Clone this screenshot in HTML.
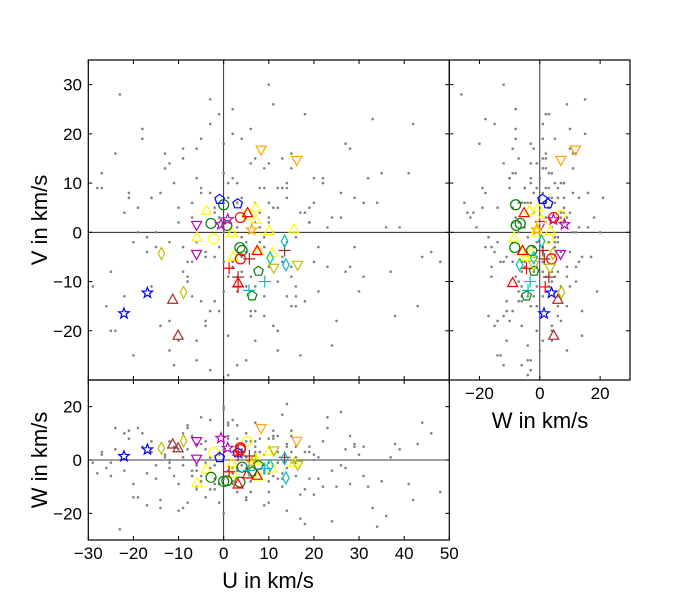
<!DOCTYPE html>
<html><head><meta charset="utf-8"><style>
html,body{margin:0;padding:0;background:#fff;}
svg text{font-family:"Liberation Sans",sans-serif;}
</style></head><body>
<svg id="chart" width="700" height="600" xmlns="http://www.w3.org/2000/svg"></svg>
<script>
// Field stars [U, V, W]
const fieldU = [-27,-25,-22,-20,-18,-15,-14,-12,-10,-9,-8,-7,-6,-5,-4,-3,-2,-1,0,1,2,3,4,5,6,7,8,9,10,11,12,13,14,15,16,17,18,20,22,24,26,28,30,34,38,42,46,-26,-21,-17,-13,-11,-8,-6,-4,-2,0,2,4,6,8,10,12,14,16,19,23,27,31,36,41,-24,-19,-16,-12,-9,-7,-5,-3,-1,1,3,5,7,9,11,13,15,18,21,25,29,33,44,-28,-23,-10,-5,0,5,10,15,20,-1,3,7,-7,12,2,-3,9,6,
 -29,-24,-20,-16,-14,-11,-9,-7,-5,-3,-2,0,1,3,4,6,7,9,10,12,13,15,17,19,21,23,26,29,32,37,43,48,-27,-22,-18,-15,-12,-10,-8,-6,-4,-1,1,2,4,5,7,8,10,11,13,14,16,18,20,24,28,35,39,-25,-21,-17,-13,-8,-6,-3,-2,0,2,3,5,6,8,9,11,12,14,16,19,22,27,31,-19,-12,-4,1,4,7,10,14,-9,-1,5,9,15,3,-6,0,6,11];
const fieldV = [12,-8,4,-25,19,-3,8,-18,2,15,-10,6,-22,9,-5,27,-14,3,18,-9,11,-27,7,-4,21,-16,1,13,-7,5,-20,9,-2,16,-11,4,24,-6,10,-23,3,17,-12,6,-17,22,-4,-15,7,-1,13,-27,-6,11,-19,4,-12,25,-8,14,-2,6,-24,9,-13,2,-7,18,-9,1,12,-20,5,-11,-2,17,-6,8,-16,3,-29,10,-4,6,-13,0,15,-9,4,-3,-18,7,23,-5,9,28,-22,19,0,-26,30,-15,11,-3,-9,2,-13,5,-6,8,-1,
 4,-11,16,-2,7,-19,10,-8,3,-14,22,-5,12,-21,6,-1,-9,15,-17,2,9,-6,13,-25,5,-12,1,8,-3,11,-8,-15,-6,9,-13,21,0,-24,5,-10,17,-4,-16,7,-7,19,-2,-11,4,14,-19,-5,10,-1,-14,6,3,-7,12,1,-20,8,-4,16,-9,-2,-28,5,-6,20,-12,3,-17,9,-3,26,-10,7,-15,2,11,-8,6,0,14,-18,10,-5,-22,3,-13,-3,24,-11,9,-7,1,-26,6,-16];
const fieldW = [3,-6,10,-14,5,-2,-18,7,-9,1,12,-4,-11,6,-1,15,-7,3,-20,9,-3,-12,4,1,-8,14,-5,2,-16,8,-1,-10,5,11,-6,-22,3,-13,7,-4,18,-9,2,-25,6,-15,10,-3,8,-17,1,-6,13,-10,4,-2,19,-8,6,-12,3,-5,9,-19,1,-7,12,-3,5,-21,-9,4,-14,7,-1,10,-6,16,-11,2,-4,8,-15,5,-2,11,-7,3,-24,1,-10,6,-18,14,-5,-26,4,-8,20,-3,-12,9,0,-16,2,7,-6,3,-9,1,
 -4,7,-1,12,-9,3,-15,5,-2,9,-6,1,-11,4,14,-3,6,-8,2,-17,8,-1,-5,11,-13,3,-7,16,-2,5,-10,1,6,-12,2,-4,10,-7,0,-19,4,-2,7,-9,13,-5,1,-14,3,8,-1,-6,17,-3,5,-11,2,-23,9,-8,4,-1,11,-5,2,-16,6,-3,-9,1,15,-4,7,-12,3,-2,9,-7,21,-1,5,-10,4,-6,12,-3,-14,8,-2,1,-8,6,-18,2,10,-5,-1,13,-4,-7];
// Named stars
const starU = [-22.1,-16.9,-11.3,-10.1,-8.9,-13.8,-6,-6,-3.8,1.9,7.1,7.2,10.1,15.6,2.1,7.8,10.8,-5.9,-2.8,0,0.7,3.6,4.1,-2.2,5.2,-0.9,3.1,-0.6,0.9,3.7,3.7,6.2,8.3,16.2,5.3,7.4,3.2,5.7,13.5,3.2,1.2,3.2,7.7,6.3,10.3,13.5,13.8,11.1,16.4,9.1,5.6];
const starV = [-16.5,-12.3,-13.6,-20.9,-12.2,-4.3,1.4,-4.5,4.5,0,5.1,2.6,0.4,0.7,-4.9,-3.7,-4.1,-1,1.8,5.6,1.4,-3.1,-3.7,-1.3,3.5,6.7,5.8,1.6,2.6,3.0,-5.4,0.5,16.7,14.6,4.0,-3.7,-10.2,-5.4,-3.7,-9.1,-7.3,-11.1,-7.9,-12.9,-5.2,-1.8,-6.6,-7.3,-6.7,-10,-11.8];
const starW = [1.4,3.9,6.0,4.6,7.2,4.4,0.3,6.9,-3.4,-1,-0.5,0.5,3.5,-1,-5,-6,-3,-8.5,-6.5,-8,-7.8,-8.3,-2.7,2.8,7,0.9,2.7,8.2,4.5,4.6,3.9,-1,11.8,7,-5.2,-5.7,-9,1.5,1,3,-4.4,1.8,-1.9,-4.4,-2,0.6,-6.7,3.4,-2,-3.2,-3.9];
const starShape = ['star','star','tri','tri','dia','dia','dtri','dtri','tri','tri','tri','tri','tri','tri','tri','tri','tri','tri','circ','circ','circ','circ','circ','circ','circ','pent','pent','star','star','circ','circ','star','dtri','dtri','tri','tri','tri','plus','plus','plus','plus','plus','pent','pent','dia','dia','dia','dtri','dtri','plus','plus'];
const starColor = ['#0000ff','#0000ff','#a52a2a','#a52a2a','#bfbf00','#bfbf00','#bf00bf','#bf00bf','#ffff00','#ffff00','#ffff00','#ffff00','#ffff00','#ffff00','#ffff00','#ffff00','#ffff00','#ffff00','#008000','#008000','#008000','#008000','#008000','#ffff00','#ffff00','#0000ff','#0000ff','#bf00bf','#bf00bf','#ff0000','#ff0000','#ffa500','#ffa500','#ffa500','#ff0000','#ff0000','#ff0000','#a52a2a','#a52a2a','#a52a2a','#ff0000','#ff0000','#008000','#008000','#00bfbf','#00bfbf','#00bfbf','#bfbf00','#bfbf00','#00bfbf','#00bfbf'];
const uTicks = [-30,-20,-10,0,10,20,30,40,50];
const vTicks = [-20,-10,0,10,20,30];
const wTicks = [-20,0,20];

const NS='http://www.w3.org/2000/svg';
const svg=document.getElementById('chart');
function el(t,a,p){const e=document.createElementNS(NS,t);for(const k in a)e.setAttribute(k,a[k]);(p||svg).appendChild(e);return e;}
const xU=u=>88.3+(u+30)*(361/80);
const yV=v=>380-(v+30)*(320/65);
const xW=w=>449.3+(w+30)*(181/60);
const yW=w=>460-w*(80/30);

const panels=[
 {name:'uv-panel',x0:88.3,y0:60,x1:449.3,y1:380,fx:xU,fy:yV,ax:'U',ay:'V'},
 {name:'wv-panel',x0:449.3,y0:60,x1:630,y1:380,fx:xW,fy:yV,ax:'W',ay:'V'},
 {name:'uw-panel',x0:88.3,y0:380,x1:449.3,y1:540,fx:xU,fy:yW,ax:'U',ay:'W'}
];
function marker(g,shape,cx,cy,c){
 const s=5, a={fill:'none',stroke:c,'stroke-width':1.2};
 let m;
 if(shape==='circ') m=el('circle',Object.assign({cx,cy,r:s},a),g);
 else if(shape==='tri') m=el('polygon',Object.assign({points:`${cx},${cy-s} ${cx-s},${cy+s*0.8} ${cx+s},${cy+s*0.8}`},a),g);
 else if(shape==='dtri') m=el('polygon',Object.assign({points:`${cx},${cy+s} ${cx-s},${cy-s*0.8} ${cx+s},${cy-s*0.8}`},a),g);
 else if(shape==='dia') m=el('polygon',Object.assign({points:`${cx},${cy-s*1.2} ${cx+s*0.65},${cy} ${cx},${cy+s*1.2} ${cx-s*0.65},${cy}`},a),g);
 else if(shape==='plus') m=el('path',Object.assign({d:`M${cx-s*1.2},${cy}H${cx+s*1.2}M${cx},${cy-s*1.2}V${cy+s*1.2}`},a),g);
 else {
  const pts=[], inner=shape==='star'?s*0.45:null;
  for(let i=0;i<(inner?10:5);i++){const r=inner?(i%2?inner:s*1.1):s;const ang=-Math.PI/2+i*Math.PI*2/(inner?10:5);pts.push((cx+r*Math.cos(ang)).toFixed(1)+','+(cy+r*Math.sin(ang)).toFixed(1));}
  m=el('polygon',Object.assign({points:pts.join(' ')},a),g);
 }
 return m;
}
panels.forEach(p=>{
 const g=el('g',{});
 
 
 const cid='clip-'+p.name;
 const cp=el('clipPath',{id:cid},g);el('rect',{x:p.x0,y:p.y0,width:p.x1-p.x0,height:p.y1-p.y0},cp);
 const inner=el('g',{'clip-path':`url(#${cid})`},g);
 const val={U:fieldU,V:fieldV,W:fieldW};
 const sval={U:starU,V:starV,W:starW};
 el('line',{x1:p.fx(0),x2:p.fx(0),y1:p.y0,y2:p.y1,stroke:'#000','stroke-width':0.8},inner);
 el('line',{x1:p.x0,x2:p.x1,y1:p.fy(0),y2:p.fy(0),stroke:'#000','stroke-width':0.8},inner);
 for(let i=0;i<fieldU.length;i++){
  const d=el('circle',{cx:p.fx(val[p.ax][i]),cy:p.fy(val[p.ay][i]),r:1.3,fill:'#808080'},inner);
  
  
 }
 for(let i=0;i<starU.length;i++){
  const m=marker(inner,starShape[i],p.fx(sval[p.ax][i]),p.fy(sval[p.ay][i]),starColor[i]);
  
  
 }
 el('rect',{x:p.x0,y:p.y0,width:p.x1-p.x0,height:p.y1-p.y0,fill:'none',stroke:'#000','stroke-width':1.2},g);
 const xt=p.ax==='U'?uTicks:wTicks, yt=p.ay==='V'?vTicks:wTicks;
 xt.forEach(t=>{const x=p.fx(t);el('line',{x1:x,x2:x,y1:p.y0,y2:p.y0+4,stroke:'#000'},g);el('line',{x1:x,x2:x,y1:p.y1,y2:p.y1-4,stroke:'#000'},g);});
 yt.forEach(t=>{const y=p.fy(t);el('line',{x1:p.x0,x2:p.x0+4,y1:y,y2:y,stroke:'#000'},g);el('line',{x1:p.x1,x2:p.x1-4,y1:y,y2:y,stroke:'#000'},g);});
});
function txt(s,a,name){const t=el('text',Object.assign({fill:'#000'},a));t.textContent=s;return t;}
const lab=t=>t<0?'\u2212'+(-t):String(t);
uTicks.forEach(t=>txt(lab(t),{x:xU(t),y:559,'font-size':17,'text-anchor':'middle'},'u-tick-label'));
vTicks.forEach(t=>txt(lab(t),{x:82,y:yV(t)+6,'font-size':17,'text-anchor':'end'},'v-tick-label'));
wTicks.forEach(t=>txt(lab(t),{x:82,y:yW(t)+6,'font-size':17,'text-anchor':'end'},'w-tick-label'));
wTicks.forEach(t=>txt(lab(t),{x:xW(t),y:399,'font-size':17,'text-anchor':'middle'},'w-tick-label-right'));
txt('U in km/s',{x:268,y:588,'font-size':22,'text-anchor':'middle'},'x-axis-title-u');
txt('W in km/s',{x:540,y:428,'font-size':22,'text-anchor':'middle'},'x-axis-title-w');
txt('V in km/s',{x:0,y:0,'font-size':22,'text-anchor':'middle',transform:'translate(47,220) rotate(-90)'},'y-axis-title-v');
txt('W in km/s',{x:0,y:0,'font-size':22,'text-anchor':'middle',transform:'translate(47,460) rotate(-90)'},'y-axis-title-w');
</script>
</body></html>
